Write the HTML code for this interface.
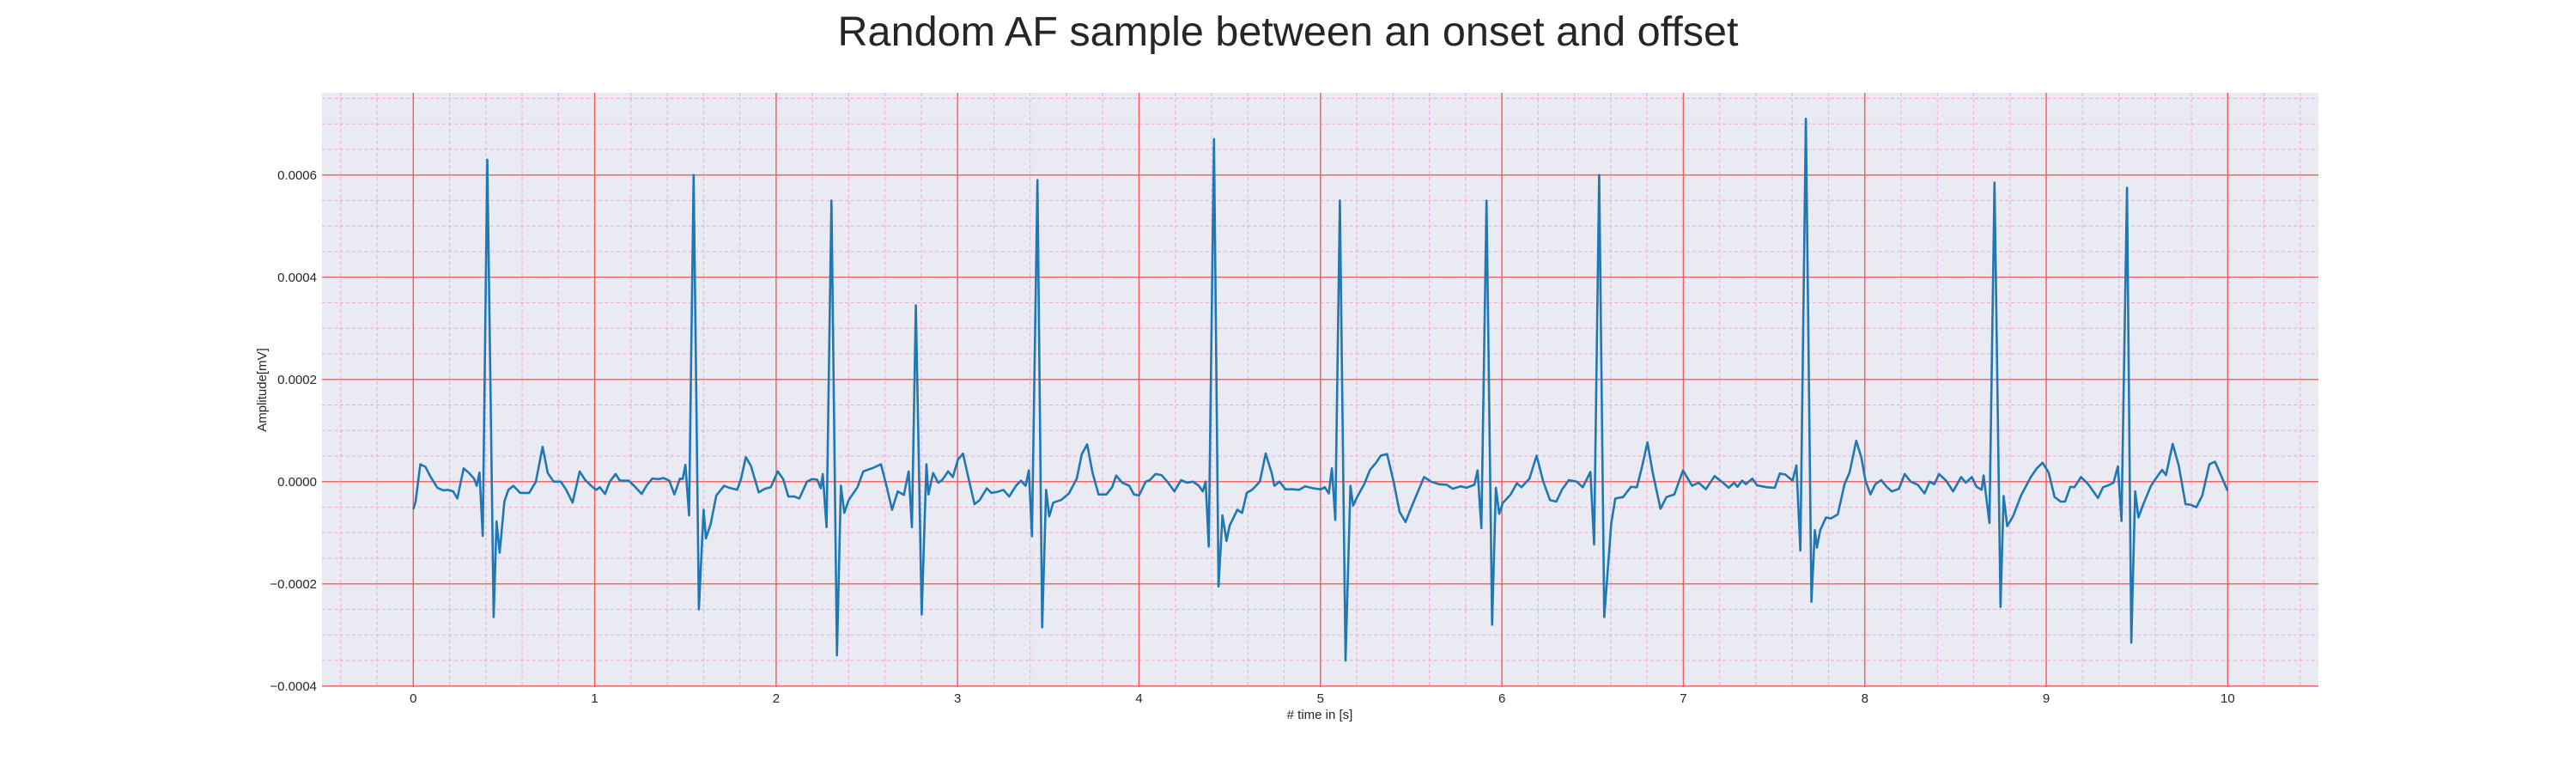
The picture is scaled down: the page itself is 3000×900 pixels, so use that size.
<!DOCTYPE html>
<html><head><meta charset="utf-8"><style>
html,body{margin:0;padding:0;background:#fff;}
svg{display:block;font-family:"Liberation Sans",sans-serif;}
</style></head><body>
<svg id="chart" width="3000" height="900" viewBox="0 0 3000 900" xmlns="http://www.w3.org/2000/svg">
<text x="1500" y="53" text-anchor="middle" font-size="48" fill="#262626" textLength="1049" lengthAdjust="spacingAndGlyphs">Random AF sample between an onset and offset</text>
<rect x="375" y="108" width="2325" height="692" fill="#EAEAF2"/>
<g id="grid"></g>
<g id="series"></g>
<g id="ticks"></g>
<text transform="translate(310,454) rotate(-90)" text-anchor="middle" font-size="15" fill="#262626">Amplitude[mV]</text>
<text x="1537" y="837" text-anchor="middle" font-size="15" fill="#262626"># time in [s]</text>
</svg>
<script>
const xTicks = [0,1,2,3,4,5,6,7,8,9,10];
const xTickLabels = ["0","1","2","3","4","5","6","7","8","9","10"];
const yTicks = [-0.0004,-0.0002,0,0.0002,0.0004,0.0006];
const yTickLabels = ["\u22120.0004","\u22120.0002","0.0000","0.0002","0.0004","0.0006"];
const timeS = [0,0.013,0.039,0.067,0.096,0.133,0.165,0.19,0.22,0.243,0.278,0.307,0.335,0.35,0.365,0.383,0.408,0.443,0.459,0.476,0.502,0.524,0.552,0.589,0.639,0.676,0.713,0.741,0.774,0.813,0.843,0.878,0.917,0.948,0.98,1.009,1.028,1.057,1.083,1.115,1.139,1.187,1.22,1.259,1.285,1.317,1.35,1.378,1.411,1.439,1.47,1.485,1.5,1.52,1.545,1.574,1.6,1.613,1.639,1.67,1.713,1.741,1.785,1.807,1.833,1.861,1.904,1.937,1.97,2.009,2.039,2.067,2.1,2.128,2.17,2.198,2.226,2.246,2.257,2.278,2.305,2.335,2.357,2.376,2.4,2.448,2.48,2.535,2.578,2.61,2.639,2.67,2.704,2.73,2.748,2.77,2.802,2.828,2.839,2.865,2.893,2.915,2.948,2.974,3.002,3.03,3.057,3.093,3.122,3.161,3.187,3.22,3.252,3.285,3.322,3.349,3.375,3.393,3.41,3.44,3.466,3.488,3.505,3.527,3.57,3.614,3.657,3.685,3.714,3.744,3.777,3.82,3.852,3.874,3.907,3.946,3.972,4.0,4.037,4.059,4.091,4.124,4.156,4.195,4.232,4.265,4.297,4.33,4.351,4.367,4.384,4.413,4.438,4.46,4.482,4.499,4.542,4.568,4.594,4.623,4.644,4.666,4.698,4.731,4.746,4.774,4.807,4.85,4.883,4.915,4.959,5.002,5.024,5.046,5.063,5.082,5.107,5.138,5.165,5.18,5.202,5.241,5.273,5.306,5.332,5.367,5.403,5.436,5.469,5.501,5.534,5.571,5.61,5.653,5.696,5.729,5.772,5.805,5.848,5.866,5.887,5.915,5.946,5.967,5.985,6.004,6.048,6.082,6.108,6.152,6.191,6.228,6.265,6.3,6.332,6.369,6.412,6.445,6.488,6.508,6.536,6.564,6.603,6.625,6.668,6.711,6.744,6.772,6.802,6.831,6.874,6.907,6.95,6.998,7.048,7.085,7.124,7.172,7.211,7.25,7.28,7.298,7.324,7.345,7.38,7.406,7.46,7.504,7.532,7.562,7.602,7.623,7.645,7.675,7.706,7.725,7.736,7.754,7.786,7.814,7.851,7.888,7.916,7.953,7.982,8.003,8.031,8.058,8.09,8.123,8.149,8.188,8.22,8.253,8.292,8.329,8.357,8.383,8.409,8.448,8.487,8.531,8.557,8.59,8.616,8.644,8.655,8.687,8.715,8.748,8.765,8.785,8.818,8.861,8.915,8.948,8.98,9.013,9.046,9.079,9.104,9.133,9.155,9.192,9.231,9.285,9.313,9.343,9.371,9.395,9.415,9.445,9.469,9.49,9.508,9.534,9.577,9.61,9.638,9.66,9.697,9.73,9.768,9.794,9.827,9.86,9.899,9.93,9.964,10.0];
const amplitudeE4 = [-0.54,-0.39,0.34,0.29,0.09,-0.12,-0.17,-0.16,-0.19,-0.33,0.26,0.17,0.06,-0.08,0.18,-1.06,6.3,-2.65,-0.78,-1.39,-0.39,-0.16,-0.08,-0.22,-0.22,0,0.68,0.17,0,0,-0.16,-0.41,0.2,0.03,-0.08,-0.16,-0.11,-0.24,0,0.15,0.02,0.02,-0.09,-0.24,-0.08,0.06,0.05,0.07,0.02,-0.25,0.06,0.05,0.33,-0.66,6.0,-2.5,-0.55,-1.11,-0.83,-0.27,-0.08,-0.12,-0.16,0.06,0.48,0.31,-0.21,-0.14,-0.11,0.2,0.05,-0.29,-0.29,-0.33,0,0.05,0.04,-0.13,0.15,-0.89,5.5,-3.4,-0.08,-0.61,-0.36,-0.11,0.2,0.27,0.34,-0.11,-0.55,-0.19,-0.26,0.2,-0.89,3.45,-2.6,0.34,-0.25,0.17,-0.02,0.03,0.2,0.09,0.43,0.55,0.12,-0.44,-0.36,-0.13,-0.22,-0.2,-0.16,-0.29,-0.08,0.02,-0.08,0.22,-1.07,5.9,-2.85,-0.16,-0.68,-0.41,-0.36,-0.23,0.06,0.54,0.73,0.17,-0.25,-0.25,-0.11,0.12,-0.02,-0.08,-0.25,-0.27,0,0.03,0.15,0.13,0,-0.19,0.03,-0.02,0,-0.08,-0.19,0,-1.27,6.7,-2.05,-0.66,-1.16,-0.86,-0.55,-0.61,-0.22,-0.16,-0.08,0,0.55,0.17,-0.08,0,-0.15,-0.15,-0.16,-0.09,-0.13,-0.15,-0.11,-0.23,0.26,-0.75,5.5,-3.5,-0.08,-0.47,-0.3,-0.05,0.23,0.37,0.51,0.54,0,-0.59,-0.79,-0.5,-0.22,0.09,0,-0.05,-0.06,-0.14,-0.09,-0.12,-0.06,0.22,-0.91,5.5,-2.8,-0.12,-0.63,-0.42,-0.25,-0.03,-0.11,0.06,0.51,0,-0.36,-0.39,-0.15,0.03,0,-0.11,0.19,-1.23,6.0,-2.65,-0.81,-0.33,-0.3,-0.1,-0.11,0.29,0.77,0.18,-0.53,-0.3,-0.25,0.22,-0.08,-0.02,-0.15,0.11,0,-0.12,-0.02,-0.1,0.02,-0.05,0.06,-0.07,-0.11,-0.12,0.16,0.14,0.02,0.32,-1.35,7.1,-2.35,-0.95,-1.29,-0.95,-0.7,-0.72,-0.64,-0.05,0.18,0.8,0.46,0.03,-0.25,-0.05,0.03,-0.11,-0.19,-0.14,0.15,0,-0.06,-0.23,0,-0.05,0.15,0.02,-0.19,0.09,-0.02,0.09,-0.1,-0.16,0.12,-0.81,5.85,-2.45,-0.28,-0.87,-0.67,-0.27,0.09,0.26,0.37,0.18,-0.3,-0.39,-0.39,-0.1,-0.11,0.09,-0.05,-0.32,-0.11,-0.07,-0.02,0.3,-0.77,5.75,-3.15,-0.19,-0.7,-0.45,-0.08,0.09,0.23,0.13,0.74,0.32,-0.44,-0.45,-0.5,-0.27,0.34,0.39,0.12,-0.18];

const X0=375, X1=2700, Y0=800, Y1=108;
const xMin=-0.503, xMax=10.5, yMin=-0.000402, yMax=0.000761;
function xs(t){return X0+(t-xMin)/(xMax-xMin)*(X1-X0);}
function ys(v){return Y0-(v-yMin)/(yMax-yMin)*(Y0-Y1);}
const NS="http://www.w3.org/2000/svg";
const grid=document.getElementById('grid');
function line(parent,x1,y1,x2,y2,stroke,w,dash,name){
  const l=document.createElementNS(NS,'line');
  l.setAttribute('x1',x1);l.setAttribute('y1',y1);l.setAttribute('x2',x2);l.setAttribute('y2',y2);
  l.setAttribute('stroke',stroke);l.setAttribute('stroke-width',w);
  if(dash)l.setAttribute('stroke-dasharray',dash);
  
  
  parent.appendChild(l);
}
// minor grid
for(let i=-2;i<=52;i++){const t=i*0.2; if(i%5===0) continue; const x=xs(t); if(x<X0||x>X1) continue;
  line(grid,x,Y1,x,Y0,'#F2A6DF',1,'4,3','minor-gridline-x');}
for(let i=-8;i<=15;i++){const v=i*0.00005; if(i%4===0) continue; const y=ys(v); if(y<Y1||y>Y0) continue;
  line(grid,X0,y,X1,y,'#F2A6DF',1,'4,3','minor-gridline-y');}
// major grid
xTicks.forEach(t=>{const x=xs(t); line(grid,x,Y1,x,Y0,'#F55A5A',1.4,null,'major-gridline-x');});
yTicks.forEach(v=>{const y=ys(v); line(grid,X0,y,X1,y,'#F55A5A',1.4,null,'major-gridline-y');});
// tick labels
const ticks=document.getElementById('ticks');
xTicks.forEach((t,i)=>{const tx=document.createElementNS(NS,'text');
  tx.setAttribute('x',xs(t));tx.setAttribute('y',818);tx.setAttribute('text-anchor','middle');
  tx.setAttribute('font-size','15');tx.setAttribute('fill','#262626');tx.textContent=xTickLabels[i];
  
  
  ticks.appendChild(tx);});
yTicks.forEach((v,i)=>{const tx=document.createElementNS(NS,'text');
  tx.setAttribute('x',369);tx.setAttribute('y',ys(v)+5);tx.setAttribute('text-anchor','end');
  tx.setAttribute('font-size','15');tx.setAttribute('fill','#262626');tx.textContent=yTickLabels[i];
  
  
  ticks.appendChild(tx);});
// series
const series=document.getElementById('series');
const p=document.createElementNS(NS,'path');
let d='';
timeS.forEach((t,i)=>{d+=(i?'L':'M')+xs(t).toFixed(1)+','+ys(amplitudeE4[i]*1e-4).toFixed(1);});
p.setAttribute('d',d);p.setAttribute('fill','none');p.setAttribute('stroke','#1f77b4');
p.setAttribute('stroke-width','2.6');p.setAttribute('stroke-linejoin','round');


series.appendChild(p);
</script>
</body></html>
